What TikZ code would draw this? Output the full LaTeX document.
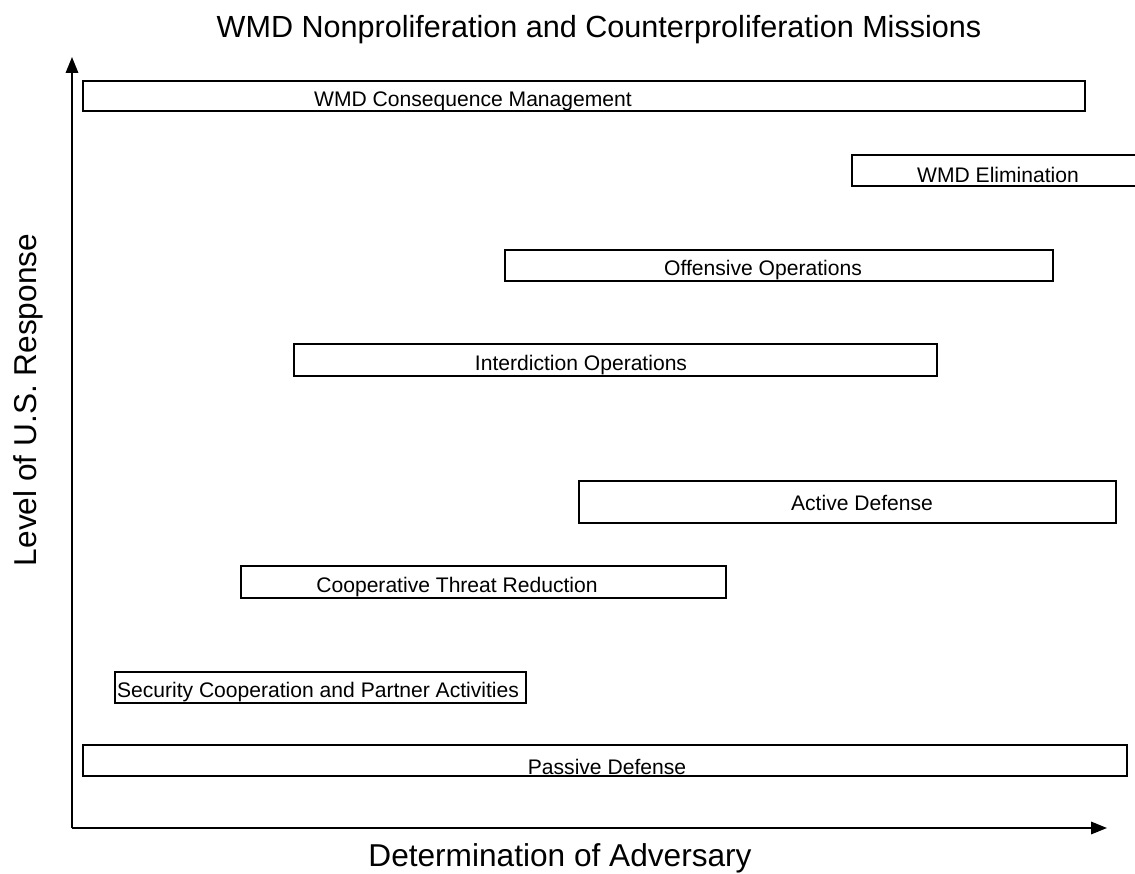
\documentclass[tikz,border=0pt]{standalone}
\usepackage{fontspec}
\setmainfont{Liberation Sans}
\usetikzlibrary{arrows.meta}
\tikzset{
    mission/.style={draw, line width=0.8pt},
    label/.style={font=\fontsize{12}{14}\selectfont, inner sep=0pt},
    axis/.style={line width=1.1pt, -{Triangle[length=9pt,width=7pt]}}
}
\begin{document}
\begin{tikzpicture}[x=0.02cm, y=-0.02cm]
    \useasboundingbox (0,0) rectangle (1135,874);
    % title and axis labels
    \node[font=\fontsize{17.4}{20}\selectfont] (title) at (599,30) {WMD Nonproliferation and Counterproliferation Missions};
    \node[font=\fontsize{18}{21}\selectfont, rotate=90] (ylab) at (28,400) {Level of U.S. Response};
    \node[font=\fontsize{18}{21}\selectfont] (xlab) at (560,858) {Determination of Adversary};
    % axes
    \coordinate (origin) at (72,828);
    \coordinate (ytip) at (72,57);
    \coordinate (xtip) at (1107,828);
    \draw[axis] (origin) -- (ytip);
    \draw[axis] (origin) -- (xtip);
    % mission boxes
    \draw[mission] (83,81) rectangle (1085,111);
    \node[label] (conseq) at (473,101) {WMD Consequence Management};
    \draw[mission] (852,155) rectangle (1140,186);
    \node[label] (elim) at (998,175) {WMD Elimination};
    \draw[mission] (505,250) rectangle (1053,281);
    \node[label] (offens) at (763,270) {Offensive Operations};
    \draw[mission] (294,344) rectangle (937,376);
    \node[label] (interd) at (581,365) {Interdiction Operations};
    \draw[mission] (579,481) rectangle (1116,523);
    \node[label] (active) at (862,503) {Active Defense};
    \draw[mission] (241,566) rectangle (726,598);
    \node[label] (coop) at (457,587) {Cooperative Threat Reduction};
    \draw[mission] (115,672) rectangle (526,703);
    \node[label] (secur) at (318,692) {Security Cooperation and Partner Activities};
    \draw[mission] (83,745) rectangle (1127,776);
    \node[label] (passive) at (607,767) {Passive Defense};
\end{tikzpicture}
\end{document}
